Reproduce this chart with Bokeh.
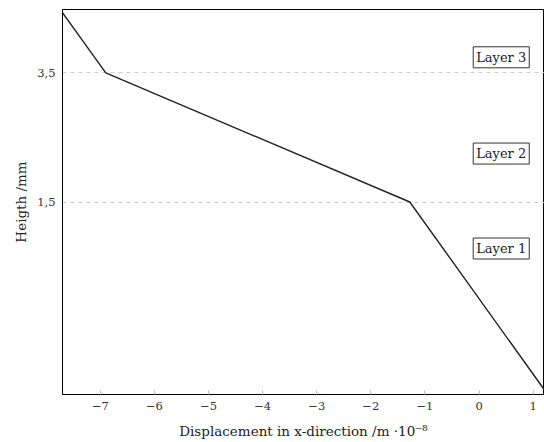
from bokeh.plotting import figure
from bokeh.models import Range1d, FixedTicker, Label
from bokeh.embed import file_html
from bokeh.resources import INLINE

# data
disp_x = [-7.7, -6.9, -1.28, 1.21]
height_y = [4.43, 3.5, 1.5, -1.41]
x_ticks = [-7, -6, -5, -4, -3, -2, -1, 0, 1]
x_tick_labels = ["\u22127", "\u22126", "\u22125", "\u22124", "\u22123", "\u22122", "\u22121", "0", "1"]
y_ticks = [1.5, 3.5]
y_tick_labels = ["1,5", "3,5"]
layer_names = ["Layer 1", "Layer 2", "Layer 3"]
layer_y = [0.78, 2.25, 3.74]
layer_x = 0.41

FONT = "DejaVu Serif"

p = figure(width=544, height=442, output_backend="svg", toolbar_location=None,
           x_range=Range1d(-7.7, 1.21), y_range=Range1d(-1.48, 4.48))
p.min_border_left = 62
p.min_border_right = 0
p.min_border_top = 9
p.min_border_bottom = 48
p.outline_line_color = "black"
p.outline_line_width = 1
p.background_fill_color = "white"
p.border_fill_color = "white"

p.line(disp_x, height_y, line_color="#222222", line_width=1.4)

p.xaxis.ticker = FixedTicker(ticks=x_ticks)
p.xaxis.major_label_overrides = {t: l for t, l in zip(x_ticks, x_tick_labels)}
p.yaxis.ticker = FixedTicker(ticks=y_ticks)
p.yaxis.major_label_overrides = {t: l for t, l in zip(y_ticks, y_tick_labels)}

for ax in (p.xaxis[0], p.yaxis[0]):
    ax.axis_line_color = "black"
    ax.major_tick_in = 4
    ax.major_tick_out = 0
    ax.major_tick_line_color = "#bbbbbb"
    ax.minor_tick_line_color = None
    ax.major_label_text_font = FONT
    ax.major_label_text_font_size = "11.5px"
    ax.major_label_text_color = "#333333"
    ax.major_label_standoff = 7
    ax.axis_label_text_font = FONT
    ax.axis_label_text_font_size = "13.5px"
    ax.axis_label_text_font_style = "normal"
    ax.axis_label_text_color = "#222222"
p.yaxis.major_tick_line_color = None

p.xaxis.axis_label = "Displacement in x-direction /m \u00b710\u207b\u2078"
p.yaxis.axis_label = "Heigth /mm"
p.xaxis.axis_label_standoff = 10
p.yaxis.axis_label_standoff = 5

p.xgrid.grid_line_color = None
p.ygrid.grid_line_color = "#cccccc"
p.ygrid.grid_line_dash = "4 4"
p.ygrid.grid_line_width = 1

for name, ly in zip(layer_names, layer_y):
    p.add_layout(Label(x=layer_x, y=ly, text=name, text_align="center", text_baseline="middle",
                       text_font=FONT, text_font_size="13px", text_color="#222222",
                       border_line_color="#333333", border_line_width=1,
                       background_fill_color="white", padding=3))

open("out.html", "w").write(file_html(p, INLINE))
